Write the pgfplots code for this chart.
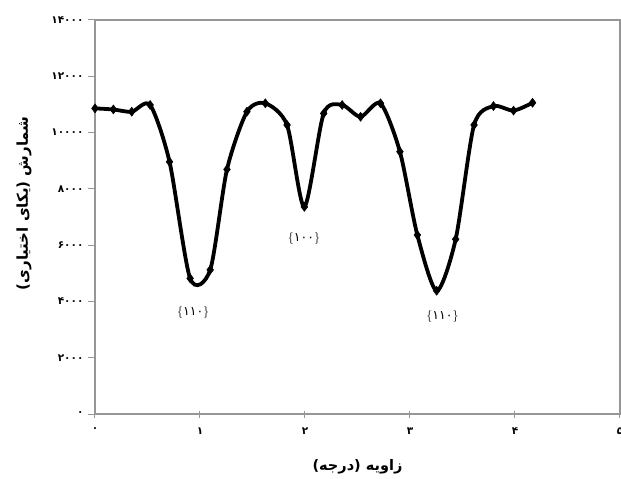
\documentclass[border=0pt]{standalone}
\usepackage{pgfplots}
\pgfplotsset{compat=1.18}
\usepackage{fontspec}
\newfontfamily\fa[Script=Arabic]{DejaVu Sans}
\TeXXeTstate=1
\definecolor{axgray}{RGB}{150,150,150}
\begin{document}
\begin{tikzpicture}
\useasboundingbox (-95pt,-65pt) rectangle (526pt,414pt);
\begin{axis}[
  scale only axis, width=525pt, height=394pt,
  xmin=0, xmax=5, ymin=0, ymax=14000,
  axis line style={axgray, line width=1.1pt},
  xtick={0,1,2,3,4,5},
  xticklabels={۰,۱,۲,۳,۴,۵},
  ytick={0,2000,4000,6000,8000,10000,12000,14000},
  yticklabels={۰,۲۰۰۰,۴۰۰۰,۶۰۰۰,۸۰۰۰,۱۰۰۰۰,۱۲۰۰۰,۱۴۰۰۰},
  tick style={axgray, line width=1pt},
  major tick length=7pt,
  xtick align=center, ytick align=outside,
  xtick pos=bottom, ytick pos=left,
  tick label style={font=\fa\bfseries\fontsize{10.5}{12}\selectfont},
  xticklabel style={yshift=-7pt},
  yticklabel style={xshift=-1pt},
  scaled y ticks=false,
  xlabel={\fa\bfseries\beginR زاویه (درجه)\endR},
  ylabel={\fa\bfseries\beginR شمارش (یکای اختیاری)\endR},
  xlabel style={font=\fa\bfseries\fontsize{14.5}{16}\selectfont, at={(axis description cs:0.5,0)}, anchor=center, yshift=-53pt},
  ylabel style={font=\fa\bfseries\fontsize{15}{17}\selectfont, at={(axis description cs:-0.135,0.535)}, anchor=center},
  clip=false,
]
\addplot[black, line width=3.8pt, smooth, tension=0.45, mark=diamond*, mark size=4.5pt, mark options={fill=black, line width=0.5pt}] coordinates {
(0,10860) (0.175,10820) (0.35,10740) (0.525,10980) (0.71,8960) (0.906,4820) (1.097,5120) (1.257,8690) (1.447,10740) (1.622,11040) (1.829,10270) (1.994,7360) (2.178,10680) (2.354,10980) (2.529,10560) (2.719,11040) (2.904,9320) (3.07,6360) (3.254,4380) (3.435,6210) (3.61,10270) (3.795,10940) (3.986,10780) (4.167,11060)
};
\node[font=\fontsize{12.5}{14}\selectfont] at (axis cs:0.935,3620) {$\{${\fa ۱۱۰}$\}$};
\node[font=\fontsize{12.5}{14}\selectfont] at (axis cs:1.99,6240) {$\{${\fa ۱۰۰}$\}$};
\node[font=\fontsize{12.5}{14}\selectfont] at (axis cs:3.31,3460) {$\{${\fa ۱۱۰}$\}$};
\end{axis}
\end{tikzpicture}
\end{document}
